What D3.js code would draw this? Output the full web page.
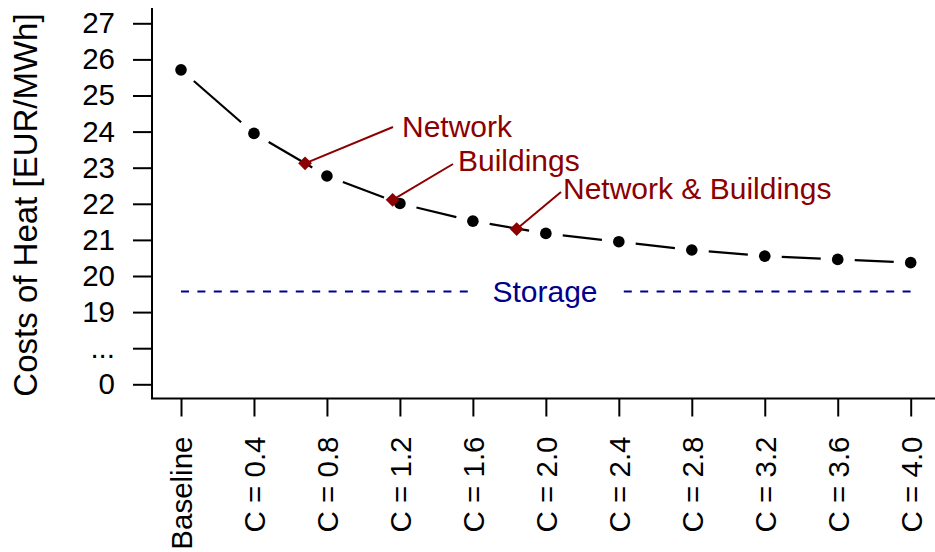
<!DOCTYPE html>
<html>
<head>
<meta charset="utf-8">
<script src="https://cdn.jsdelivr.net/npm/d3@7"></script>
<style>
  html, body { margin: 0; padding: 0; background: #fff; }
  svg { display: block; font-family: "Liberation Sans", Arial, Helvetica, sans-serif; }
</style>
</head>
<body>
<svg id="chart" width="935" height="552"></svg>
<script>
// Scenario categories along the x axis (position index 0..10)
const categories = ["Baseline", "C = 0.4", "C = 0.8", "C = 1.2", "C = 1.6", "C = 2.0",
                    "C = 2.4", "C = 2.8", "C = 3.2", "C = 3.6", "C = 4.0"];
// Costs of heat per scenario [EUR/MWh]
const costs = [25.71, 23.95, 22.77, 22.01, 21.52, 21.18, 20.95, 20.72, 20.55, 20.46, 20.37];

// Flexibility options, placed at their equivalent capacity C
const optionNames = ["Network", "Buildings", "Network & Buildings"];
const optionC = [0.68, 1.16, 1.84];
const optionCosts = [23.12, 22.11, 21.30];

// Reference cost level with storage
const storageLabel = "Storage";
const storageCost = 19.57;

// Broken y axis: the lowest tick stands for 0, the next one is the break
const yTickPos = [17, 18, 19, 20, 21, 22, 23, 24, 25, 26, 27];
const yTickLabels = ["0", "...", "19", "20", "21", "22", "23", "24", "25", "26", "27"];

const svg = d3.select("#chart");
const darkRed = "#8b0000";
const darkBlue = "#00008b";

const x = d3.scaleLinear().domain([0, 10]).range([181, 910.7]);
const y = d3.scaleLinear().domain([17, 27]).range([384.3, 23.3]);
const cStep = 0.4;

const axisX = 152, axisY = 398.5;

// Axis frame (left and bottom)
svg.append("line").attr("x1", axisX).attr("x2", axisX).attr("y1", 8).attr("y2", axisY)
  .attr("stroke", "#000").attr("stroke-width", 2);
svg.append("line").attr("x1", axisX - 1).attr("x2", 935).attr("y1", axisY).attr("y2", axisY)
  .attr("stroke", "#000").attr("stroke-width", 2);

// Y axis ticks and labels
const yAxis = d3.axisLeft(y).tickValues(yTickPos)
  .tickFormat((d, i) => yTickLabels[i]).tickSizeOuter(0).tickSize(19).tickPadding(18);
const gy = svg.append("g").attr("transform", `translate(${axisX},0)`).call(yAxis);
gy.select(".domain").remove();
gy.selectAll(".tick line").attr("stroke", "#000").attr("stroke-width", 2);
gy.selectAll(".tick text").attr("font-size", 29.5).attr("fill", "#000")
  .attr("font-family", "Liberation Sans, Arial, sans-serif");

// X axis ticks and rotated labels
const xAxis = d3.axisBottom(x).tickValues(d3.range(categories.length))
  .tickFormat(i => categories[i]).tickSizeOuter(0).tickSize(18);
const gx = svg.append("g").attr("transform", `translate(0,${axisY})`).call(xAxis);
gx.select(".domain").remove();
gx.selectAll(".tick line").attr("stroke", "#000").attr("stroke-width", 2);
gx.selectAll(".tick text")
  .attr("font-size", 29.5).attr("fill", "#000")
  .attr("font-family", "Liberation Sans, Arial, sans-serif")
  .attr("text-anchor", "end")
  .attr("transform", "translate(0,38) rotate(-90)")
  .attr("x", 0).attr("y", 0).attr("dy", "0.36em");

// Y axis title
svg.append("text")
  .attr("transform", "translate(37,205) rotate(-90)")
  .attr("text-anchor", "middle")
  .attr("font-size", 33)
  .text("Costs of Heat [EUR/MWh]");

// Storage reference line with its label on a white backing
svg.append("line")
  .attr("x1", x(0)).attr("x2", x(10))
  .attr("y1", y(storageCost)).attr("y2", y(storageCost))
  .attr("stroke", darkBlue).attr("stroke-width", 2)
  .attr("stroke-dasharray", "8,8.4");
svg.append("rect")
  .attr("x", 474).attr("y", y(storageCost) - 18).attr("width", 142).attr("height", 36)
  .attr("fill", "#fff");
svg.append("text")
  .attr("x", 545).attr("y", y(storageCost)).attr("dy", "0.36em")
  .attr("text-anchor", "middle").attr("font-size", 30).attr("fill", darkBlue)
  .text(storageLabel);

// Cost curve: segments between points, leaving a gap around each marker
const pts = costs.map((v, i) => [x(i), y(v)]);
const gap = 17;
const segs = d3.pairs(pts).map(([a, b]) => {
  const dx = b[0] - a[0], dy = b[1] - a[1];
  const len = Math.hypot(dx, dy);
  const ux = dx / len, uy = dy / len;
  return [a[0] + ux * gap, a[1] + uy * gap, b[0] - ux * gap, b[1] - uy * gap];
});
svg.append("g").selectAll("line").data(segs).join("line")
  .attr("x1", d => d[0]).attr("y1", d => d[1])
  .attr("x2", d => d[2]).attr("y2", d => d[3])
  .attr("stroke", "#000").attr("stroke-width", 2.2);

svg.append("g").selectAll("circle").data(costs).join("circle")
  .attr("cx", (d, i) => x(i)).attr("cy", d => y(d)).attr("r", 5.8)
  .attr("fill", "#000");

// Flexibility options: leader lines, labels and diamond markers
const labelAnchors = [[393, 127], [453, 164], [561, 192]];
const labelPos = [[402, 137], [458, 171], [563, 199]];
const opt = optionC.map((c, i) => ({
  name: optionNames[i], px: x(c / cStep), py: y(optionCosts[i]),
  ax: labelAnchors[i][0], ay: labelAnchors[i][1],
  tx: labelPos[i][0], ty: labelPos[i][1]
}));

svg.append("g").selectAll("line").data(opt).join("line")
  .attr("x1", d => d.px).attr("y1", d => d.py)
  .attr("x2", d => d.ax).attr("y2", d => d.ay)
  .attr("stroke", darkRed).attr("stroke-width", 2);

svg.append("g").selectAll("path").data(opt).join("path")
  .attr("d", d3.symbol(d3.symbolSquare, 95))
  .attr("transform", d => `translate(${d.px},${d.py}) rotate(45)`)
  .attr("fill", darkRed);

svg.append("g").selectAll("text").data(opt).join("text")
  .attr("x", d => d.tx).attr("y", d => d.ty)
  .attr("font-size", 30).attr("fill", darkRed)
  .text(d => d.name);
</script>
</body>
</html>
